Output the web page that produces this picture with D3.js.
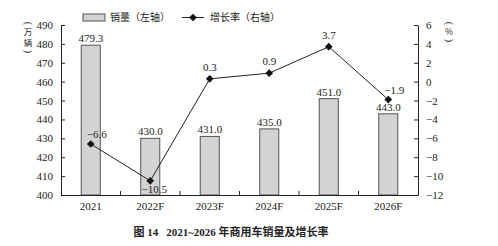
<!DOCTYPE html>
<html>
<head>
<meta charset="utf-8">
<script src="https://cdn.jsdelivr.net/npm/d3@7"></script>
<style>
  body { margin: 0; background: #fff; }
  text { font-family: "Liberation Serif", "Noto Sans CJK SC", serif; fill: #222; }
  .cjk { font-family: "Noto Sans CJK SC", sans-serif; }
</style>
</head>
<body>
<div id="chart"></div>
<script>
const categories = ['2021', '2022F', '2023F', '2024F', '2025F', '2026F'];
const sales = [479.3, 430.0, 431.0, 435.0, 451.0, 443.0];
const growth = [-6.6, -10.5, 0.3, 0.9, 3.7, -1.9];
const leftTicks = [400, 410, 420, 430, 440, 450, 460, 470, 480, 490];
const rightTicks = [-12, -10, -8, -6, -4, -2, 0, 2, 4, 6];

const W = 498, H = 246;
const margin = {top: 25, bottom: 51, left: 61, right: 80};
const width = W - margin.left - margin.right;
const height = H - margin.top - margin.bottom;

const svg = d3.select('#chart').append('svg').attr('width', W).attr('height', H);
const chart = svg.append('g').attr('transform', `translate(${margin.left}, ${margin.top})`);

const xScale = d3.scaleBand().domain(categories).range([0, width]).paddingInner(0.68).paddingOuter(0.34);
const xBand = d3.scaleBand().domain(categories).range([0, width]);
const yLeft = d3.scaleLinear().domain([400, 490]).range([height, 0]);
const yRight = d3.scaleLinear().domain([-12, 6]).range([height, 0]);

// bars
chart.selectAll('.bar').data(sales).enter()
    .append('rect')
    .attr('class', 'bar')
    .attr('x', (d, i) => xScale(categories[i]))
    .attr('y', d => yLeft(d))
    .attr('width', xScale.bandwidth())
    .attr('height', d => height - yLeft(d))
    .style('fill', '#d3d3d3')
    .style('stroke', '#555')
    .style('stroke-width', 1);

chart.selectAll('.bar-label').data(sales).enter()
    .append('text')
    .attr('x', (d, i) => xScale(categories[i]) + xScale.bandwidth() / 2)
    .attr('y', d => yLeft(d) - 3)
    .attr('text-anchor', 'middle')
    .style('font-size', '11px')
    .text(d => d.toFixed(1));

// axes
const axisStyle = g => {
    g.attr('font-family', null);
    g.select('.domain').attr('stroke', '#222');
    g.selectAll('.tick line').attr('stroke', '#222');
    g.selectAll('.tick text').style('font-size', '11px').attr('fill', '#222')
        .style('font-family', '"Liberation Serif", serif');
};

chart.append('g')
    .attr('transform', `translate(0, ${height})`)
    .call(d3.axisBottom(xBand).tickSize(0).tickPadding(7))
    .call(axisStyle);

// inner ticks at band boundaries
chart.selectAll('.xtick').data(categories.slice(1)).enter()
    .append('line')
    .attr('x1', d => xBand(d)).attr('x2', d => xBand(d))
    .attr('y1', height).attr('y2', height - 4)
    .attr('stroke', '#222');

chart.append('g')
    .call(d3.axisLeft(yLeft).tickValues(leftTicks).tickSizeInner(-4).tickSizeOuter(0).tickPadding(8))
    .call(axisStyle);

chart.append('g')
    .attr('transform', `translate(${width}, 0)`)
    .call(d3.axisRight(yRight).tickValues(rightTicks).tickSizeInner(-4).tickSizeOuter(0).tickPadding(8)
        .tickFormat(d => d < 0 ? '\u2212' + Math.abs(d) : d))
    .call(axisStyle);

// growth line
const cx = i => xBand(categories[i]) + xBand.bandwidth() / 2;
const line = d3.line().x((d, i) => cx(i)).y(d => yRight(d));
chart.append('path').datum(growth)
    .attr('d', line)
    .attr('fill', 'none')
    .attr('stroke', '#222')
    .attr('stroke-width', 1);

const diamond = d3.symbol().type(d3.symbolDiamond2).size(38);
chart.selectAll('.pt').data(growth).enter()
    .append('path')
    .attr('d', diamond)
    .attr('transform', (d, i) => `translate(${cx(i)}, ${yRight(d)})`)
    .attr('fill', '#111');

const labelOffset = [[6, -6], [4, 12], [0, -8], [0, -8], [0, -8], [6, -6]];
chart.selectAll('.pt-label').data(growth).enter()
    .append('text')
    .attr('x', (d, i) => cx(i) + labelOffset[i][0])
    .attr('y', (d, i) => yRight(d) + labelOffset[i][1])
    .attr('text-anchor', 'middle')
    .style('font-size', '11px')
    .text(d => d < 0 ? '\u2212' + Math.abs(d).toFixed(1) : d.toFixed(1));

// axis titles, stacked vertically; brackets turned on their side
const vTitle = (x, y, chars) => {
    let yy = y;
    chars.forEach(c => {
        if (c === '(' || c === ')') {
            svg.append('text')
                .attr('transform', `translate(${x}, ${yy + 2.5}) rotate(90)`)
                .attr('text-anchor', 'middle').attr('dy', '0.32em')
                .style('font-size', '10px')
                .text(c);
            yy += 6;
        } else {
            svg.append('text').attr('class', 'cjk')
                .attr('x', x).attr('y', yy + 5.5)
                .attr('text-anchor', 'middle').attr('dy', '0.32em')
                .style('font-size', '8.5px')
                .text(c);
            yy += 11;
        }
    });
};
vTitle(28, 21, ['(', '万', '辆', ')']);
vTitle(449, 21, ['(', '%', ')']);

// legend
const legend = svg.append('g');
legend.append('rect').attr('x', 83).attr('y', 14).attr('width', 22).attr('height', 7)
    .style('fill', '#d3d3d3').style('stroke', '#555');
legend.append('text').attr('class', 'cjk').attr('x', 110).attr('y', 21).style('font-size', '10px')
    .text('销量（左轴）');
legend.append('line').attr('x1', 182).attr('x2', 204).attr('y1', 17.5).attr('y2', 17.5).attr('stroke', '#222');
legend.append('path').attr('d', diamond).attr('transform', 'translate(193, 17.5)').attr('fill', '#111');
legend.append('text').attr('class', 'cjk').attr('x', 210).attr('y', 21).style('font-size', '10px')
    .text('增长率（右轴）');

// caption
svg.append('text')
    .attr('x', 231).attr('y', 236)
    .attr('text-anchor', 'middle')
    .style('font-size', '11px')
    .style('font-weight', 'bold')
    .html('<tspan class="cjk">图</tspan> 14<tspan dx="8">2021</tspan>~2026 <tspan class="cjk">年商用车销量及增长率</tspan>');
</script>
</body>
</html>
